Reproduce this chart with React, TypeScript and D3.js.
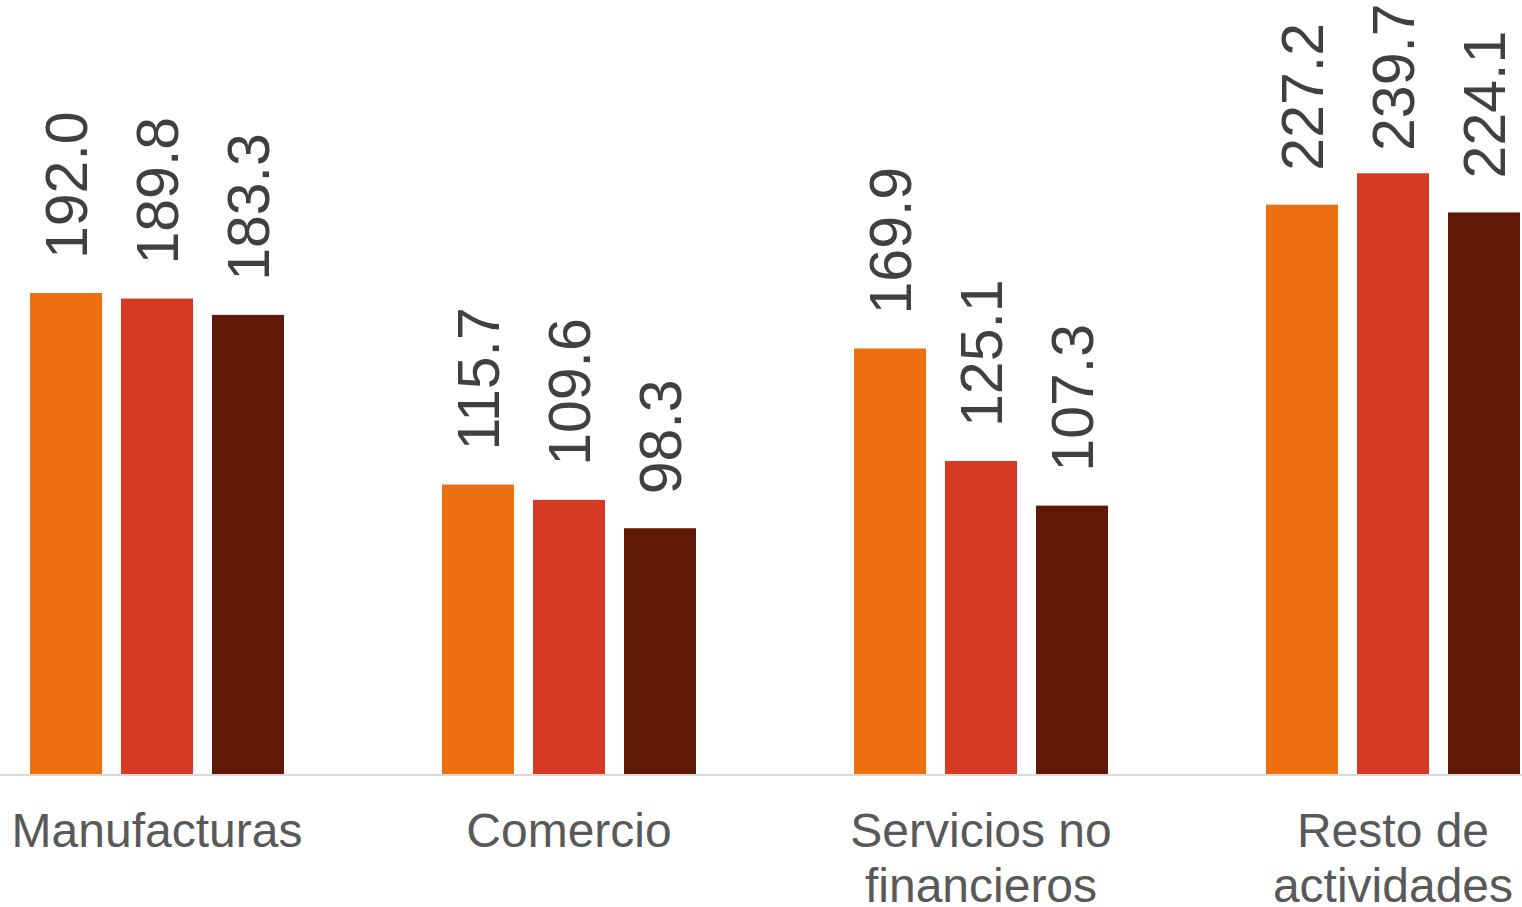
import { useMemo } from "react";
import * as d3 from "d3";

const categories = ["Manufacturas", "Comercio", "Servicios no financieros", "Resto de actividades"];
const categoryLines = [["Manufacturas"], ["Comercio"], ["Servicios no", "financieros"], ["Resto de", "actividades"]];
const series = ["s1", "s2", "s3"];
const values1 = [192.0, 115.7, 169.9, 227.2];
const values2 = [189.8, 109.6, 125.1, 239.7];
const values3 = [183.3, 98.3, 107.3, 224.1];

const colors = ["#EC700F", "#D73A24", "#601905"];

const WIDTH = 1522;
const HEIGHT = 907;
const BASE = 775;

export default function App() {
  const rows = [values1, values2, values3];

  const x = useMemo(() => d3.scaleBand<string>().domain(categories).range([-49, 1599]).padding(0), []);
  const xInner = useMemo(
    () => d3.scaleBand<string>().domain(series).range([0, 254]).paddingInner(0.209).paddingOuter(0),
    []
  );
  const y = useMemo(() => d3.scaleLinear().domain([0, 300]).range([BASE, BASE - 753.1]), []);

  return (
    <svg
      width={WIDTH}
      height={HEIGHT}
      style={{ position: "absolute", left: 0, top: 0, fontFamily: "'Liberation Sans', Arial, sans-serif" }}
    >
      {categories.map((c, ci) => {
        const gx = x(c)! + x.bandwidth() / 2 - 127;
        return (
          <g key={c} transform={`translate(${gx},0)`}>
            {series.map((s, si) => {
              const v = rows[si][ci];
              const bx = xInner(s)!;
              const cx = bx + xInner.bandwidth() / 2;
              const top = y(v);
              // labels pushed down when they would run off the top, like Excel does
              const ly = Math.max(top - 34, 151);
              return (
                <g key={s}>
                  <rect x={bx} y={top} width={xInner.bandwidth()} height={BASE - top} fill={colors[si]} />
                  <text
                    transform={`translate(${cx},${ly}) rotate(-90)`}
                    dy="0.35em"
                    fontSize={59}
                    fill="#404040"
                  >
                    {v.toFixed(1)}
                  </text>
                </g>
              );
            })}
          </g>
        );
      })}
      <line x1={0} x2={WIDTH} y1={BASE} y2={BASE} stroke="#D9D9D9" strokeWidth={2} />
      {categories.map((c, ci) => (
        <text
          key={c}
          x={x(c)! + x.bandwidth() / 2}
          y={847}
          textAnchor="middle"
          fontSize={48}
          fill="#595959"
        >
          {categoryLines[ci].map((line, li) => (
            <tspan key={li} x={x(c)! + x.bandwidth() / 2} dy={li === 0 ? 0 : 55}>
              {line}
            </tspan>
          ))}
        </text>
      ))}
    </svg>
  );
}
